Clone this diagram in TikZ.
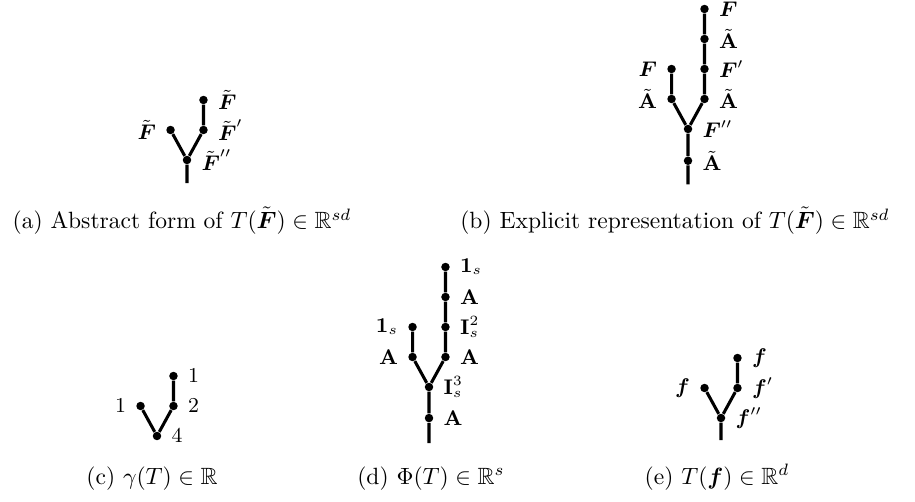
\documentclass[tikz,border=0pt]{standalone}
\usepackage{amsmath}
\usepackage{amssymb}
\usetikzlibrary{positioning}

\begin{document}
\begin{tikzpicture}[
  x=0.425pt, y=-0.425pt,
  node distance=12.75pt and 7pt,
  dot/.style={circle, fill, inner sep=0pt, minimum size=3.6pt, on grid},
  edge/.style={line width=1.3pt},
  lbl/.style={font=\small, inner sep=1pt},
  subcap/.style={anchor=base, inner sep=0pt},
]
\useasboundingbox (0,0) rectangle (915,502);

% Tree (a)
\node[dot] (ar) at (187,160) {};
\node[dot, above left=of ar] (al) {};
\node[dot, above right=of ar] (am) {};
\node[dot, above=of am] (at) {};
\coordinate[on grid, below=9.8pt of ar] (as);
\draw[edge] (as) -- (ar) -- (al);
\draw[edge] (ar) -- (am) -- (at);

% Labels (a)
\node[lbl, left=3pt of al] (al-l) {$\tilde{\boldsymbol{F}}$};
\node[lbl, right=3pt of at] (at-l) {$\tilde{\boldsymbol{F}}$};
\node[lbl, right=3pt of am] (am-l) {$\tilde{\boldsymbol{F}}'$};
\node[lbl, right=3pt of ar] (ar-l) {$\tilde{\boldsymbol{F}}''$};

% Tree (b)
\node[dot] (br) at (688,129) {};
\node[dot, above left=of br] (bl1) {};
\node[dot, above=of bl1] (bl2) {};
\node[dot, above right=of br] (bm1) {};
\node[dot, above=of bm1] (bm2) {};
\node[dot, above=of bm2] (bm3) {};
\node[dot, above=of bm3] (bm4) {};
\node[dot, below=13.5pt of br] (bd) {};
\coordinate[on grid, below=10pt of bd] (bs);
\draw[edge] (bs) -- (bd) -- (br) -- (bl1) -- (bl2);
\draw[edge] (br) -- (bm1) -- (bm2) -- (bm3) -- (bm4);

% Labels (b)
\node[lbl, left=3pt of bl2] (bl2-l) {$\boldsymbol{F}$};
\node[lbl, left=3pt of bl1] (bl1-l) {$\tilde{\mathbf{A}}$};
\node[lbl, right=3pt of bm4] (bm4-l) {$\boldsymbol{F}$};
\node[lbl, right=3pt of bm3] (bm3-l) {$\tilde{\mathbf{A}}$};
\node[lbl, right=3pt of bm2] (bm2-l) {$\boldsymbol{F}'$};
\node[lbl, right=3pt of bm1] (bm1-l) {$\tilde{\mathbf{A}}$};
\node[lbl, right=3pt of br] (br-l) {$\boldsymbol{F}''$};
\node[lbl, right=3pt of bd] (bd-l) {$\tilde{\mathbf{A}}$};

% Tree (c)
\node[dot] (cr) at (157,436) {};
\node[dot, above left=of cr] (cl) {};
\node[dot, above right=of cr] (cm) {};
\node[dot, above=of cm] (ct) {};
\draw[edge] (cl) -- (cr) -- (cm) -- (ct);

% Labels (c)
\node[lbl, left=3pt of cl] (cl-l) {$1$};
\node[lbl, right=3pt of ct] (ct-l) {$1$};
\node[lbl, right=3pt of cm] (cm-l) {$2$};
\node[lbl, right=3pt of cr] (cr-l) {$4$};

% Tree (d)
\node[dot] (dr) at (429,387) {};
\node[dot, above left=of dr] (dl1) {};
\node[dot, above=of dl1] (dl2) {};
\node[dot, above right=of dr] (dm1) {};
\node[dot, above=of dm1] (dm2) {};
\node[dot, above=of dm2] (dm3) {};
\node[dot, above=of dm3] (dm4) {};
\node[dot, below=13.2pt of dr] (dd) {};
\coordinate[on grid, below=10.6pt of dd] (ds);
\draw[edge] (ds) -- (dd) -- (dr) -- (dl1) -- (dl2);
\draw[edge] (dr) -- (dm1) -- (dm2) -- (dm3) -- (dm4);

% Labels (d)
\node[lbl, left=3pt of dl2] (dl2-l) {$\mathbf{1}_s$};
\node[lbl, left=3pt of dl1] (dl1-l) {$\mathbf{A}$};
\node[lbl, right=3pt of dm4] (dm4-l) {$\mathbf{1}_s$};
\node[lbl, right=3pt of dm3] (dm3-l) {$\mathbf{A}$};
\node[lbl, right=3pt of dm2] (dm2-l) {$\mathbf{I}_s^2$};
\node[lbl, right=3pt of dm1] (dm1-l) {$\mathbf{A}$};
\node[lbl, right=3pt of dr] (dr-l) {$\mathbf{I}_s^3$};
\node[lbl, right=3pt of dd] (dd-l) {$\mathbf{A}$};

% Tree (e)
\node[dot] (er) at (721,418) {};
\node[dot, above left=of er] (el) {};
\node[dot, above right=of er] (em) {};
\node[dot, above=of em] (et) {};
\coordinate[on grid, below=9.4pt of er] (es);
\draw[edge] (es) -- (er) -- (el);
\draw[edge] (er) -- (em) -- (et);

% Labels (e)
\node[lbl, left=3pt of el] (el-l) {$\boldsymbol{f}$};
\node[lbl, right=3pt of et] (et-l) {$\boldsymbol{f}$};
\node[lbl, right=3pt of em] (em-l) {$\boldsymbol{f}'$};
\node[lbl, right=3pt of er] (er-l) {$\boldsymbol{f}''$};

% Captions
\node[subcap] (capa) at (182,229) {(a) Abstract form of $T(\tilde{\boldsymbol{F}}) \in \mathbb{R}^{sd}$};
\node[subcap] (capb) at (675,229) {(b) Explicit representation of $T(\tilde{\boldsymbol{F}}) \in \mathbb{R}^{sd}$};
\node[subcap] (capc) at (152,484) {(c) $\gamma(T) \in \mathbb{R}$};
\node[subcap] (capd) at (431,484) {(d) $\Phi(T) \in \mathbb{R}^{s}$};
\node[subcap] (cape) at (717,484) {(e) $T(\boldsymbol{f}) \in \mathbb{R}^{d}$};

\end{tikzpicture}
\end{document}
